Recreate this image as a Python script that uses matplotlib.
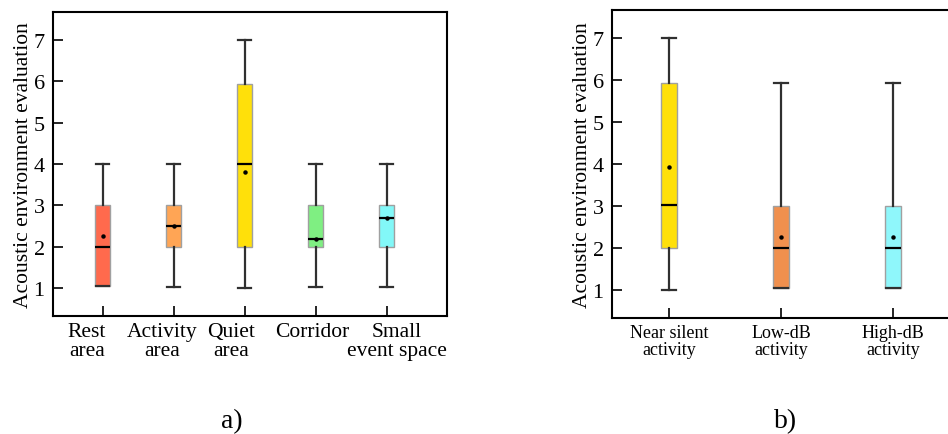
import matplotlib
matplotlib.use("Agg")
import matplotlib.pyplot as plt
from matplotlib.transforms import ScaledTranslation

plt.rcParams['font.family'] = ['Liberation Serif', 'DejaVu Serif']

# Panel a) data
cats_a = ["Rest\narea", "Activity\narea", "Quiet\narea", "Corridor", "Small\nevent space"]
whislo_a = [1.05, 1.03, 1.0, 1.03, 1.03]
q1_a = [1.05, 2.0, 2.0, 2.0, 2.0]
med_a = [2.0, 2.5, 4.0, 2.2, 2.7]
q3_a = [3.0, 3.0, 5.93, 3.0, 3.0]
whishi_a = [4.0, 4.0, 7.0, 4.0, 4.0]
mean_a = [2.25, 2.5, 3.8, 2.2, 2.7]
colors_a = ["#FF6A4D", "#FFA555", "#FFE00A", "#7FEF82", "#82F8F8"]

# Panel b) data
cats_b = ["Near silent\nactivity", "Low-dB\nactivity", "High-dB\nactivity"]
whislo_b = [1.0, 1.05, 1.05]
q1_b = [2.0, 1.05, 1.05]
med_b = [3.02, 2.0, 2.0]
q3_b = [5.93, 3.0, 3.0]
whishi_b = [7.0, 5.92, 5.92]
mean_b = [3.92, 2.25, 2.25]
colors_b = ["#FFE00A", "#F0904E", "#8FF7FB"]

ylabel = "Acoustic environment evaluation"


def draw(ax, cats, wlo, q1, med, q3, whi, mean, colors, width, xtick_fs):
    stats = []
    for i in range(len(cats)):
        stats.append(dict(whislo=wlo[i], q1=q1[i], med=med[i], q3=q3[i],
                          whishi=whi[i], mean=mean[i], fliers=[]))
    pos = list(range(1, len(cats) + 1))
    bp = ax.bxp(stats, positions=pos, widths=width, patch_artist=True,
                showmeans=True, showfliers=False,
                boxprops=dict(edgecolor="#A0A0A0", linewidth=1.0),
                medianprops=dict(color="black", linewidth=1.6),
                whiskerprops=dict(color="#303030", linewidth=1.6),
                capprops=dict(color="#303030", linewidth=1.6),
                capwidths=width * 0.9,
                meanprops=dict(marker="o", markerfacecolor="black",
                               markeredgecolor="black", markersize=2.2))
    for patch, c in zip(bp["boxes"], colors):
        patch.set_facecolor(c)
    ax.set_xticks(pos)
    ax.set_xticklabels(cats, fontsize=xtick_fs, linespacing=1.0)
    ax.set_yticks([1, 2, 3, 4, 5, 6, 7])
    ax.tick_params(axis="y", labelsize=16, direction="in", length=7, width=1.2, pad=6)
    ax.tick_params(axis="x", direction="in", length=7, width=1.2, pad=4)
    ax.set_ylim(0.33, 7.67)
    ax.set_ylabel(ylabel, fontsize=15.5, labelpad=0.5)
    for s in ax.spines.values():
        s.set_linewidth(1.5)


fig = plt.figure(figsize=(9.48, 4.35), dpi=100)

ax1 = fig.add_axes([0.0559, 0.2713, 0.4156, 0.6987])
draw(ax1, cats_a, whislo_a, q1_a, med_a, q3_a, whishi_a, mean_a, colors_a, 0.21, 15.5)
ax1.set_xlim(0.30, 5.85)
# individual horizontal shifts of the category labels (in pixels)
shifts_a = [-16, -12, -14, -3, 10]
for lab, dx in zip(ax1.get_xticklabels(), shifts_a):
    lab.set_transform(lab.get_transform() + ScaledTranslation(dx / 100, 0, fig.dpi_scale_trans))

ax2 = fig.add_axes([0.6456, 0.2667, 0.379, 0.708])
draw(ax2, cats_b, whislo_b, q1_b, med_b, q3_b, whishi_b, mean_b, colors_b, 0.14, 13)
ax2.set_xlim(0.49, 3.7)

fig.text(0.245, 0.03, "a)", fontsize=20, ha="center", va="center")
fig.text(0.829, 0.03, "b)", fontsize=20, ha="center", va="center")

fig.savefig("out.png", dpi=100)
